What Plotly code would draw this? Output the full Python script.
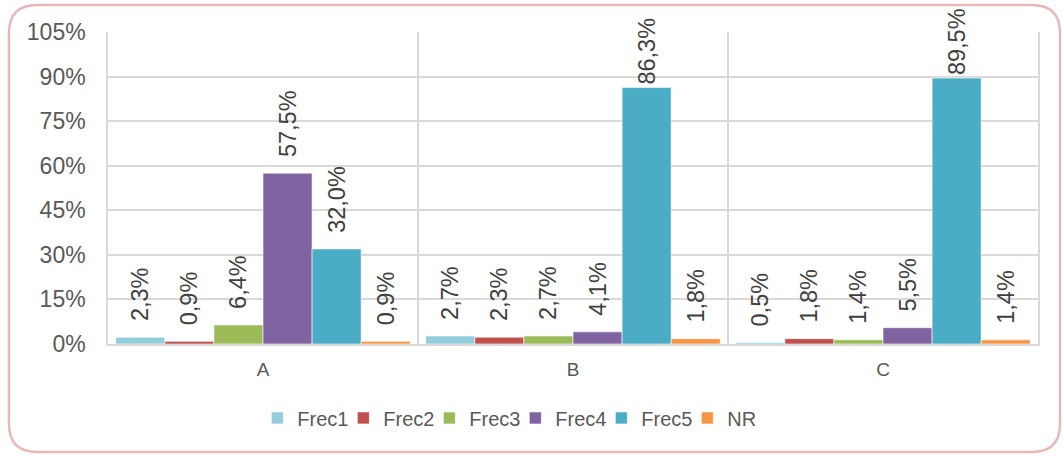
import plotly.graph_objects as go

# data
categories = ["A", "B", "C"]
series_names = ["Frec1", "Frec2", "Frec3", "Frec4", "Frec5", "NR"]
frec1 = [2.3, 2.7, 0.5]
frec2 = [0.9, 2.3, 1.8]
frec3 = [6.4, 2.7, 1.4]
frec4 = [57.5, 4.1, 5.5]
frec5 = [32.0, 86.3, 89.5]
nr = [0.9, 1.8, 1.4]
y_ticks = [0, 15, 30, 45, 60, 75, 90, 105]

series_values = [frec1, frec2, frec3, frec4, frec5, nr]
colors = ["#92CDDC", "#C0504D", "#9BBB59", "#8064A2", "#4BACC6", "#F79646"]

W, H = 1063, 456
ML, MR, MT, MB = 108, 25, 32, 112
PW, PH = W - ML - MR, H - MT - MB


def label(v):
    # tall bars keep their label tight to the bar so it stays inside the chart
    pad = "" if v > 80 else "\u00a0\u00a0"
    return pad + f"{v:.1f}".replace(".", ",") + "%"


fig = go.Figure()
for name, vals, col in zip(series_names, series_values, colors):
    fig.add_trace(go.Bar(
        name=name, x=categories, y=vals,
        marker=dict(color=col, line=dict(color="white", width=0.6)),
        text=[label(v) for v in vals],
        textposition="outside", textangle=-90, cliponaxis=False,
        constraintext="none",
        textfont=dict(size=23.5, color="#404040", family="Arial, Liberation Sans"),
    ))


def px_x(p):
    return (p - ML) / PW


def px_y(p):
    return (H - MB - p) / PH


# rounded border around the chart
l, r_, t, b, rad = 9, 1060, 5, 452, 28
path = (
    f"M {px_x(l + rad)} {px_y(t)} L {px_x(r_ - rad)} {px_y(t)} "
    f"Q {px_x(r_)} {px_y(t)} {px_x(r_)} {px_y(t + rad)} "
    f"L {px_x(r_)} {px_y(b - rad)} Q {px_x(r_)} {px_y(b)} {px_x(r_ - rad)} {px_y(b)} "
    f"L {px_x(l + rad)} {px_y(b)} Q {px_x(l)} {px_y(b)} {px_x(l)} {px_y(b - rad)} "
    f"L {px_x(l)} {px_y(t + rad)} Q {px_x(l)} {px_y(t)} {px_x(l + rad)} {px_y(t)} Z"
)
fig.add_shape(type="path", path=path, xref="paper", yref="paper",
              line=dict(color="#E6B9B8", width=2.5), layer="above")

fig.update_layout(
    width=W, height=H,
    margin=dict(l=ML, r=MR, t=MT, b=MB),
    paper_bgcolor="white", plot_bgcolor="white",
    barmode="group", bargap=0.05, bargroupgap=0,
    font=dict(family="Arial, Liberation Sans", color="#595959"),
    showlegend=True,
    legend=dict(orientation="h", x=0.438, xanchor="center", y=-0.237, yanchor="middle",
                font=dict(size=20, color="#595959"), itemwidth=30,
                entrywidth=41, entrywidthmode="pixels",
                traceorder="normal"),
    xaxis=dict(tickson="boundaries", showgrid=True, gridcolor="#D9D9D9", gridwidth=1.5,
               showline=True, linecolor="#D9D9D9", linewidth=1.5, automargin=False,
               ticks="", ticklabelstandoff=7, tickfont=dict(size=19, color="#595959")),
    yaxis=dict(range=[0, 105], tickvals=y_ticks, ticktext=[f"{v}%" for v in y_ticks],
               showgrid=True, gridcolor="#D9D9D9", gridwidth=1.5, zeroline=False,
               showline=True, mirror=True, linecolor="#D9D9D9", linewidth=1.5,
               automargin=False,
               ticks="", ticklabelstandoff=16, tickfont=dict(size=23, color="#595959")),
)

fig.write_html("out.html", config={"displayModeBar": False},
               post_script="document.body.style.margin='0px';")
